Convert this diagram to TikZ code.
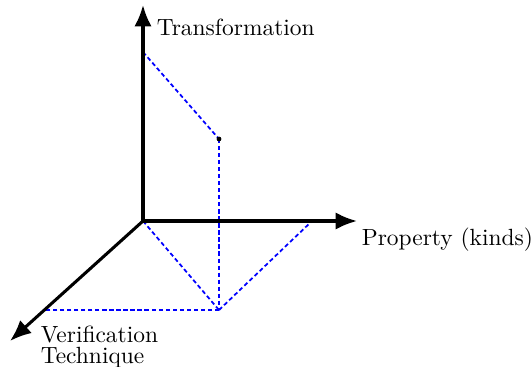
\documentclass[tikz,border=0pt]{standalone}
\usepackage{tikz}
\usetikzlibrary{arrows.meta, positioning, calc}
\tikzset{%
    axis/.style={%
        draw=black, line width=1.3pt, -{Latex[length=3.2mm, width=2.6mm]}
    },
    proj/.style={%
        draw=blue, line width=0.75pt, dash pattern=on 1.8pt off 1.2pt
    },
    axlabel/.style={%
        font=\normalsize, inner sep=1pt
    },
}

\begin{document}
\begin{tikzpicture}[x=0.015cm, y=-0.015cm]
    \useasboundingbox (0,0) rectangle (532,366);

    % axes
    \coordinate (origin) at (143,221);
    \coordinate (trans) at (143,5);
    \coordinate (prop) at (357,221);
    \coordinate (verif) at (10,341);

    % projection points
    \coordinate (tpt) at (143,52);
    \coordinate (point) at (219,139);
    \coordinate (base) at (219,310);
    \coordinate (ppt) at (312,221);
    \coordinate (vpt) at (45,310);

    \draw[proj] (tpt) -- (point);
    \draw[proj] (point) -- (base);
    \draw[proj] (origin) -- (base);
    \draw[proj] (base) -- (ppt);
    \draw[proj] (base) -- (vpt);

    \draw[axis] (origin) -- (trans);
    \draw[axis] (origin) -- (prop);
    \draw[axis] (origin) -- (verif);

    \fill[black] (point) circle (2.4);

    \node[axlabel, anchor=west] (translabel) at (154,27) {Transformation};
    \node[axlabel, anchor=west] (proplabel) at (359,240) {Property (kinds)};
    \node[axlabel, anchor=north west, align=left] (veriflabel) at (38,323) {Verification\\[-3pt]Technique};
\end{tikzpicture}
\end{document}
